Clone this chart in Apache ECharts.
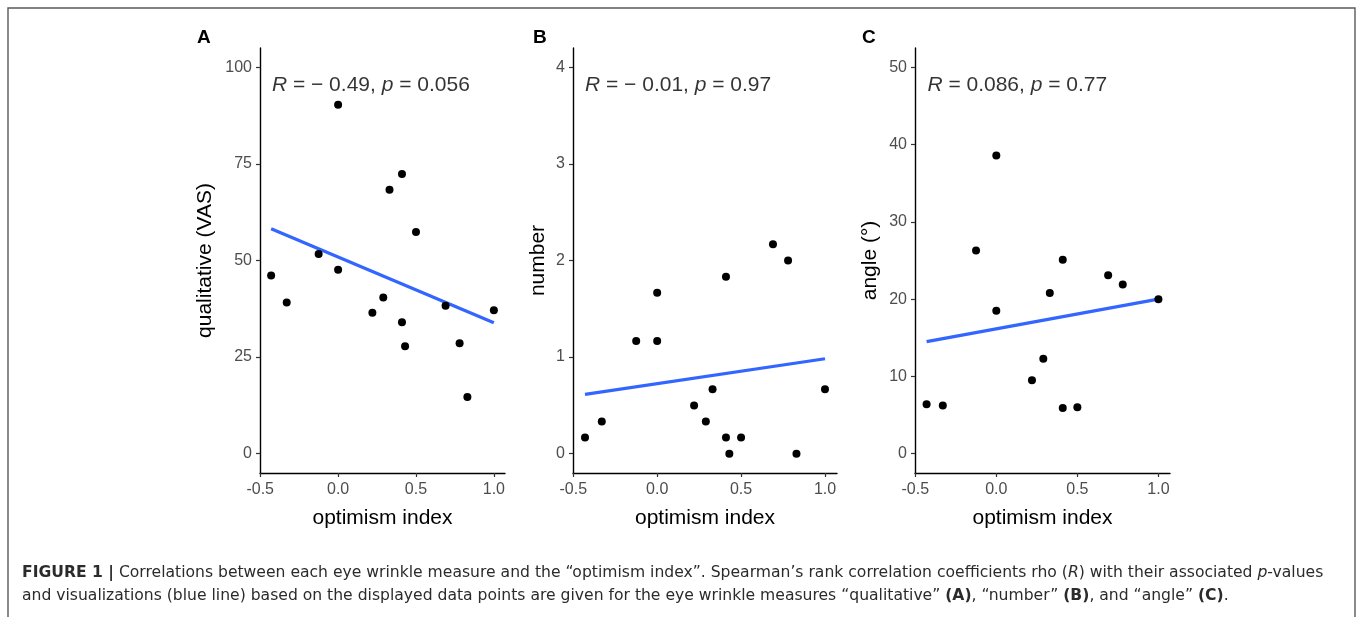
<!DOCTYPE html>
<html>
<head>
<meta charset="utf-8">
<script src="https://cdn.jsdelivr.net/npm/echarts@6/dist/echarts.min.js"></script>
<style>
html,body{margin:0;padding:0;background:#fff;}
#chart{width:1357px;height:617px;}
</style>
</head>
<body>
<div id="chart"></div>
<script>
// ---- data ----
const xTicks = [-0.5, 0, 0.5, 1.0];
const yTicksA = [0, 25, 50, 75, 100];
const yTicksB = [0, 1, 2, 3, 4];
const yTicksC = [0, 10, 20, 30, 40, 50];

const optimismA = [-0.43, -0.33, -0.125, 0, 0, 0.22, 0.29, 0.33, 0.41, 0.41, 0.43, 0.5, 0.69, 0.78, 0.83, 1.0];
const qualitative = [46.1, 39.1, 51.7, 90.3, 47.6, 36.5, 40.4, 68.3, 72.4, 34.0, 27.8, 57.4, 38.3, 28.6, 14.7, 37.1];

const optimismB = [-0.43, -0.33, -0.125, 0, 0, 0.22, 0.29, 0.33, 0.41, 0.41, 0.43, 0.5, 0.69, 0.78, 0.83, 1.0];
const number = [0.167, 0.333, 1.167, 1.167, 1.667, 0.5, 0.333, 0.667, 1.833, 0.167, 0, 0.167, 2.167, 2.0, 0, 0.667];

const optimismC = [-0.43, -0.33, -0.125, 0, 0, 0.22, 0.29, 0.33, 0.41, 0.41, 0.5, 0.69, 0.78, 1.0];
const angle = [6.4, 6.25, 26.3, 38.6, 18.5, 9.5, 12.3, 20.8, 25.1, 5.9, 6.0, 23.1, 21.9, 20.0];

const fitX = [-0.43, 1.0];
const fitA = [58.2, 33.9];
const fitB = [0.614, 0.983];
const fitC = [14.5, 20.0];

const statA = ['R', ' = \u2212 0.49, ', 'p', ' = 0.056'];
const statB = ['R', ' = \u2212 0.01, ', 'p', ' = 0.97'];
const statC = ['R', ' = 0.086, ', 'p', ' = 0.77'];
const statPosA = [-0.425, 95.4];
const statPosB = [-0.43, 3.82];
const statPosC = [-0.425, 47.7];

const panelLetters = ['A', 'B', 'C'];
const yNames = ['qualitative (VAS)', 'number', 'angle (\u00b0)'];
const xName = 'optimism index';

// ---- chart ----
const FONT = '"Liberation Sans", Arial, sans-serif';
const CAPFONT = '"DejaVu Sans", "Liberation Sans", sans-serif';
const chart = echarts.init(document.getElementById('chart'), null, {renderer: 'canvas'});

const grids = [
  {left: 260, top: 48, width: 245, height: 425},
  {left: 573, top: 48, width: 264, height: 425},
  {left: 915, top: 48, width: 255, height: 425}
];
const yRanges = [[-5, 105], [-0.2, 4.2], [-2.5, 52.5]];
const yTicks = [yTicksA, yTicksB, yTicksC];
const yNameGaps = [44, 24, 34];

function pairs(xs, ys) { return xs.map((x, i) => [x, ys[i]]); }

const xAxes = grids.map((g, i) => ({
  type: 'value', gridIndex: i, min: -0.5015, max: 1.0715,
  name: xName, nameLocation: 'middle', nameGap: 35,
  nameTextStyle: {fontSize: 21, color: '#000', fontFamily: FONT},
  axisLine: {show: true, onZero: false, lineStyle: {color: '#000', width: 1.4}},
  axisTick: {show: true, length: 4, customValues: xTicks, lineStyle: {color: '#333', width: 1.2}},
  axisLabel: {customValues: xTicks, formatter: v => v.toFixed(1), fontSize: 16, color: '#4d4d4d', margin: 9, fontFamily: FONT},
  splitLine: {show: false}
}));
const yAxes = grids.map((g, i) => ({
  type: 'value', gridIndex: i, min: yRanges[i][0], max: yRanges[i][1],
  name: yNames[i], nameLocation: 'middle', nameGap: yNameGaps[i], nameRotate: 90,
  nameTextStyle: {fontSize: 21, color: '#000', fontFamily: FONT},
  axisLine: {show: true, onZero: false, lineStyle: {color: '#000', width: 1.4}},
  axisTick: {show: true, length: 4, customValues: yTicks[i], lineStyle: {color: '#333', width: 1.2}},
  axisLabel: {customValues: yTicks[i], fontSize: 16, color: '#4d4d4d', margin: 8, fontFamily: FONT},
  splitLine: {show: false}
}));

const pointSets = [pairs(optimismA, qualitative), pairs(optimismB, number), pairs(optimismC, angle)];
const fitSets = [pairs(fitX, fitA), pairs(fitX, fitB), pairs(fitX, fitC)];
const stats = [statA, statB, statC];
const statPos = [statPosA, statPosB, statPosC];

const series = [];
for (let i = 0; i < 3; i++) {
  series.push({
    type: 'line', xAxisIndex: i, yAxisIndex: i, data: fitSets[i],
    showSymbol: false, symbol: 'none', silent: true,
    lineStyle: {color: '#3366FF', width: 3.2}, z: 2
  });
  series.push({
    type: 'scatter', xAxisIndex: i, yAxisIndex: i, data: pointSets[i],
    symbolSize: 8, itemStyle: {color: '#000', opacity: 1}, z: 3, silent: true
  });
  const s = stats[i];
  series.push({
    type: 'scatter', xAxisIndex: i, yAxisIndex: i, data: [statPos[i]],
    symbolSize: 0, silent: true, z: 4,
    label: {
      show: true, position: 'right', distance: 0,
      formatter: '{i|' + s[0] + '}' + s[1] + '{i|' + s[2] + '}' + s[3],
      fontSize: 21, color: '#000', fontFamily: FONT,
      rich: {i: {fontStyle: 'italic', fontSize: 21, color: '#000', fontFamily: FONT}}
    }
  });
}

const CAPSIZE = 15.6;
const capRich = {
  b: {fontWeight: 'bold', fontSize: CAPSIZE, color: '#2b2b2b', fontFamily: CAPFONT},
  i: {fontStyle: 'italic', fontSize: CAPSIZE, color: '#2b2b2b', fontFamily: CAPFONT}
};
const letterX = [197, 533, 862];

const graphics = [
  {type: 'rect', shape: {x: 8, y: 8, width: 1347, height: 640}, silent: true,
   style: {fill: 'none', stroke: '#5a5a5a', lineWidth: 1.4}},
  {type: 'text', left: 22, top: 565, silent: true, style: {
    text: '{b|FIGURE 1 |} Correlations between each eye wrinkle measure and the \u201coptimism index\u201d. Spearman\u2019s rank correlation coefficients rho ({i|R}) with their associated {i|p}-values',
    fontSize: CAPSIZE, fill: '#2b2b2b', fontFamily: CAPFONT, rich: capRich}},
  {type: 'text', left: 22, top: 588, silent: true, style: {
    text: 'and visualizations (blue line) based on the displayed data points are given for the eye wrinkle measures \u201cqualitative\u201d {b|(A)}, \u201cnumber\u201d {b|(B)}, and \u201cangle\u201d {b|(C)}.',
    fontSize: CAPSIZE, fill: '#2b2b2b', fontFamily: CAPFONT, rich: capRich}}
];
panelLetters.forEach((L, i) => graphics.push({
  type: 'text', left: letterX[i], top: 28, silent: true,
  style: {text: L, fontSize: 19, fontWeight: 'bold', fill: '#000', fontFamily: FONT}
}));

chart.setOption({
  animation: false,
  backgroundColor: '#fff',
  grid: grids,
  xAxis: xAxes,
  yAxis: yAxes,
  series: series,
  graphic: graphics
});
</script>
</body>
</html>
